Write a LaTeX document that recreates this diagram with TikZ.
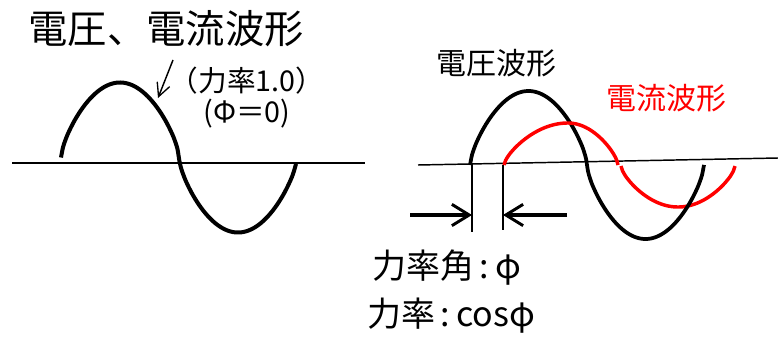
\documentclass[tikz,border=0pt]{standalone}
\usepackage{fontspec}
\usetikzlibrary{arrows.meta, positioning}
\setmainfont{Noto Sans CJK JP}
\definecolor{waveRed}{RGB}{255,0,0}
\definecolor{waveInk}{RGB}{0,0,0}

\begin{document}
\begin{tikzpicture}[
    x=0.75pt, y=-0.75pt,
    declare function={bulge(\t)=sign(sin(\t))*pow(abs(sin(\t))+0.00001,0.68);},
    axis/.style={draw=waveInk, line width=1.3pt},
    wave/.style={draw=waveInk, line width=3pt},
    current/.style={draw=waveRed, line width=2.6pt},
    guide/.style={draw=waveInk, line width=1pt},
    pointer/.style={-{Straight Barb[length=10pt, width=10pt, line width=1pt]}, line width=1.1pt},
    span/.style={-{Straight Barb[length=13pt, width=16pt, line width=2.2pt]}, line width=2.6pt},
    title/.style={font=\fontsize{29.5}{32}\selectfont, inner sep=0pt},
    note/.style={font=\fontsize{21.5}{24}\selectfont, inner sep=0pt},
    caption/.style={font=\fontsize{22.5}{25}\selectfont, inner sep=0pt},
    formula/.style={font=\fontsize{25.5}{28}\selectfont, inner sep=0pt, anchor=west}
]
    \useasboundingbox (0,0) rectangle (778,339);

    % left: power factor 1.0
    \node[title] (heading) at (166,29) {電圧、電流波形};
    \node[note] (pfOne) at (247,81) {（力率1.0）};
    \node[note, below=3pt of pfOne] (phiZero) {(Φ＝0)};
    \draw[axis] (12,163) -- (365,163);
    \draw[wave] plot[domain=61:296, samples=120, smooth] (\x, {157.5 - 75*bulge((\x-61)*1.52542)});
    \coordinate (tail) at (173,60);
    \coordinate (tip) at (158,98);
    \draw[pointer] (tail) -- (tip);

    % right: lagging current
    \node[caption] (voltLabel) at (496,63) {電圧波形};
    \node[caption, text=waveRed] (currLabel) at (666,98) {電流波形};
    \draw[axis, line width=1.1pt] (418,165) -- (778,158);
    \draw[current] plot[domain=621:735, samples=70, smooth] (\x, {166 + 41*bulge((\x-621)*1.57895)});
    \draw[wave, line width=2.8pt] plot[domain=470:704, samples=120, smooth] (\x, {165 - 74*bulge((\x-470)*1.53846)});
    \draw[current] plot[domain=504:568, samples=40, smooth] (\x, {165 - 42*bulge((\x-504)*1.40625)})
        -- plot[domain=568:618, samples=40, smooth] (\x, {165 - 42*bulge(90+(\x-568)*1.8)});

    \coordinate (vTop) at (472,164);
    \coordinate (vBot) at (472,232);
    \coordinate (iTop) at (503,165);
    \coordinate (iBot) at (503,230);
    \draw[guide] (vTop) -- (vBot);
    \draw[guide] (iTop) -- (iBot);
    \coordinate (leftEnd) at (410,215);
    \coordinate (rightEnd) at (567,215);
    \draw[span] (leftEnd) -- (vTop |- leftEnd);
    \draw[span] (rightEnd) -- (iTop |- rightEnd);

    \node[formula] (angle) at (372,268) {力率角\,:\,φ};
    \node[formula] (factor) at (367,316) {力率\,:\,cosφ};
\end{tikzpicture}
\end{document}
